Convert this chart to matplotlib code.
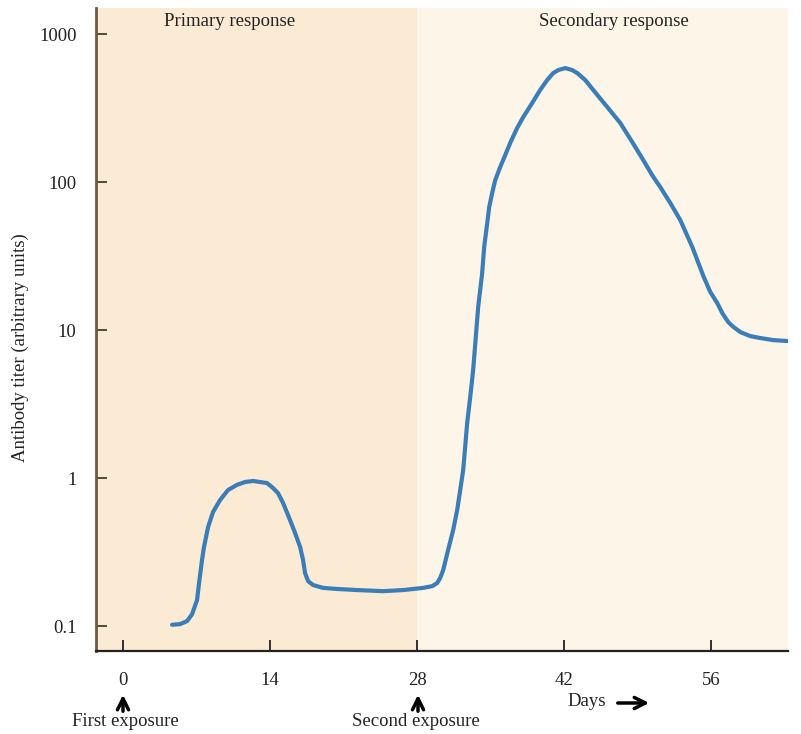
import matplotlib.pyplot as plt
from matplotlib.ticker import FixedLocator, NullLocator

# values (days, antibody titer)
days = [4.67, 5.43, 6.10, 6.57, 7.05, 7.24, 7.52, 7.71, 8.10, 8.57,
        9.24, 10.00, 10.86, 11.62, 12.38, 13.05, 13.71, 14.29, 14.76, 15.24,
        15.90, 16.38, 16.86, 17.14, 17.33, 17.62, 18.10, 19.05, 20.38, 22.29,
        24.76, 26.67, 28.57, 29.43, 29.90, 30.19, 30.48, 30.95, 31.43, 31.81,
        32.10, 32.38, 32.57, 32.76, 33.05, 33.33, 33.52, 33.81, 34.19, 34.38,
        34.67, 34.86, 35.14, 35.43, 35.90, 36.38, 36.86, 37.52, 38.10, 38.95,
        39.71, 40.38, 40.95, 41.43, 42.10, 42.76, 43.24, 44.00, 44.76, 46.10,
        47.33, 48.48, 49.52, 50.38, 51.14, 52.10, 53.05, 54.19, 55.24, 55.90,
        56.57, 57.05, 57.62, 58.10, 58.76, 59.71, 60.67, 61.90, 63.24]
titer = [0.102, 0.103, 0.108, 0.120, 0.150, 0.195, 0.279, 0.342, 0.467, 0.589,
         0.71, 0.83, 0.90, 0.94, 0.955, 0.94, 0.925, 0.855, 0.79, 0.678,
         0.52, 0.425, 0.342, 0.279, 0.228, 0.201, 0.189, 0.181, 0.178, 0.175,
         0.172, 0.175, 0.181, 0.186, 0.195, 0.211, 0.239, 0.327, 0.446, 0.608,
         0.83, 1.13, 1.62, 2.35, 3.52, 5.37, 7.9, 14.3, 24.3, 36.4,
         52.8, 67.8, 84.3, 103, 126, 152, 184, 232, 275, 342,
         419, 489, 545, 571, 589, 571, 545, 489, 419, 321,
         251, 186, 141, 111, 92.5, 72.1, 55.3, 36.4, 23.2, 18.1,
         15.2, 13.0, 11.3, 10.5, 9.69, 9.10, 8.83, 8.55, 8.43]

x_ticks = [0, 14, 28, 42, 56]
y_ticks = [0.1, 1, 10, 100, 1000]
y_labels = ["0.1", "1", "10", "100", "1000"]
second_exposure = 28

W, H = 801, 734


def px(x, y):
    # pixel position -> figure fraction
    return x / W, 1 - y / H


plt.rcParams["font.family"] = ["Liberation Serif", "DejaVu Serif"]
fs = 13.5
ink = "#222222"

fig = plt.figure(figsize=(W / 100, H / 100), dpi=100)
ax = fig.add_axes([96 / W, 1 - 651 / H, (788 - 96) / W, (651 - 8) / H])

xmin, xmax = -2.57, 63.3
ax.axvspan(xmin, second_exposure, color="#fcebd4", lw=0, zorder=0)
ax.axvspan(second_exposure, xmax, color="#fef5e9", lw=0, zorder=0)

ax.plot(days, titer, color="#3a7db7", lw=3.0, solid_joinstyle="round",
        solid_capstyle="round", zorder=3)

ax.set_yscale("log")
ax.set_xlim(xmin, xmax)
ax.set_ylim(0.0678, 1500)

ax.xaxis.set_major_locator(FixedLocator(x_ticks))
ax.set_xticklabels([str(t) for t in x_ticks])
ax.yaxis.set_major_locator(FixedLocator(y_ticks))
ax.yaxis.set_minor_locator(NullLocator())
ax.set_yticklabels(y_labels)

ax.tick_params(axis="both", direction="in", length=8, width=1.3,
               labelsize=fs, colors=ink)
ax.tick_params(axis="x", pad=15)
ax.tick_params(axis="y", pad=14, color="#4a3a2a")

for s in ["top", "right"]:
    ax.spines[s].set_visible(False)
ax.spines["left"].set_color("#6b5a48")
ax.spines["left"].set_linewidth(2)
ax.spines["bottom"].set_color(ink)
ax.spines["bottom"].set_linewidth(1.6)

ax.set_ylabel("Antibody titer (arbitrary units)", fontsize=fs, color=ink)
ax.yaxis.set_label_coords(-(96 - 29) / (788 - 96), (651 - 348) / (651 - 8))

fig.text(*px(230, 22), "Primary response", ha="center", va="center",
         fontsize=fs, color=ink)
fig.text(*px(614, 22), "Secondary response", ha="center", va="center",
         fontsize=fs, color=ink)

# exposure arrows and labels under the axis
arrow = dict(arrowstyle="->", lw=2.5, color="black", mutation_scale=20)
for xp in [123, 418]:
    fig.add_artist(plt.Annotation("", xy=px(xp, 692), xytext=px(xp, 714),
                                  xycoords="figure fraction",
                                  arrowprops=arrow))
fig.text(*px(125, 722), "First exposure", ha="center", va="center",
         fontsize=fs, color=ink)
fig.text(*px(416, 722), "Second exposure", ha="center", va="center",
         fontsize=fs, color=ink)
fig.text(*px(587, 702), "Days", ha="center", va="center",
         fontsize=fs, color=ink)
fig.add_artist(plt.Annotation("", xy=px(652, 703), xytext=px(615, 703),
                              xycoords="figure fraction",
                              arrowprops=arrow))

plt.savefig("out.png", dpi=100)
